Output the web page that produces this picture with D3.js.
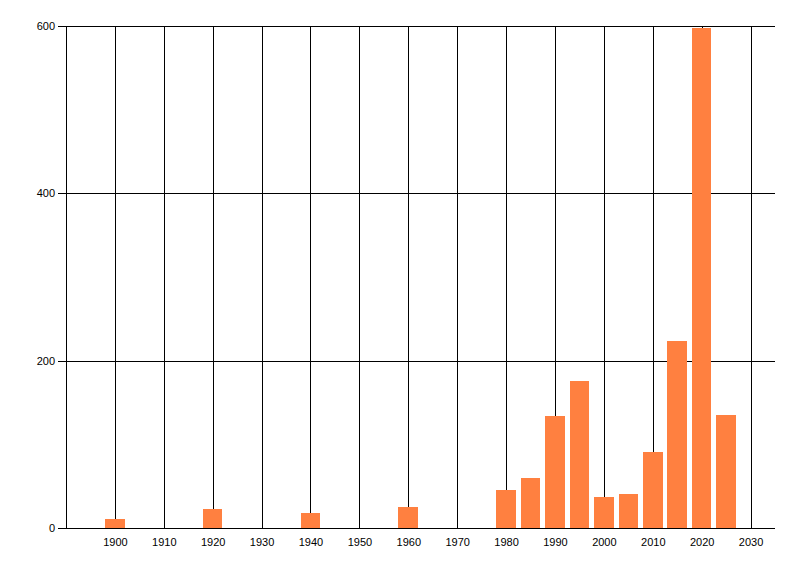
<!DOCTYPE html>
<html>
<head>
<meta charset="utf-8">
<script src="https://cdn.jsdelivr.net/npm/d3@7"></script>
<style>
  body { margin: 0; background: #fff; }
  text { font-family: "Liberation Sans", "DejaVu Sans", sans-serif; font-size: 11px; fill: #000; }
</style>
</head>
<body>
<div class="container"></div>
<script>
// data
const years  = [1900, 1920, 1940, 1960, 1980, 1985, 1990, 1995, 2000, 2005, 2010, 2015, 2020, 2025];
const counts = [11, 23, 18, 25, 46, 60, 134, 176, 37, 41, 91, 223, 598, 135];
const xTicks = [1900, 1910, 1920, 1930, 1940, 1950, 1960, 1970, 1980, 1990, 2000, 2010, 2020, 2030];
const yTicks = [0, 200, 400, 600];

const margin = {top: 26, right: 25, bottom: 48, left: 66};
const width = 800 - margin.left - margin.right;
const height = 576 - margin.top - margin.bottom;

const svg = d3.select(".container")
              .append("svg")
                .attr("width", 800)
                .attr("height", 576)
              .append("g")
                .attr("transform", "translate(" + margin.left + "," + margin.top + ")");

const x = d3.scaleLinear().domain([1890, 2035]).range([0, width]);
const y = d3.scaleLinear().domain([0, 600]).range([height, 0]);

const barYears = 4; // each bar spans about four years

// vertical grid via bottom axis
const xAxis = svg.append("g")
  .attr("transform", "translate(0," + height + ")")
  .call(d3.axisBottom(x).tickValues(xTicks).tickFormat(d3.format("d"))
          .tickSize(-height).tickSizeOuter(0).tickPadding(7));
xAxis.select(".domain").remove();
xAxis.selectAll(".tick line")
  .attr("stroke", "#000")
  .attr("shape-rendering", "crispEdges");
xAxis.selectAll(".tick text")
  .attr("y", 10)
  .attr("dy", "0.71em");

// horizontal grid via left axis
const yAxis = svg.append("g")
  .call(d3.axisLeft(y).tickValues(yTicks).tickSize(-width).tickSizeOuter(0).tickPadding(11));
yAxis.select(".domain").remove();
yAxis.selectAll(".tick line")
  .attr("x1", -8)
  .attr("stroke", "#000")
  .attr("shape-rendering", "crispEdges");

// y axis line
svg.append("line")
  .attr("x1", 0).attr("x2", 0)
  .attr("y1", 0).attr("y2", height)
  .attr("stroke", "#000")
  .attr("shape-rendering", "crispEdges");

const data = years.map((yr, i) => ({year: yr, value: counts[i]}));

svg.selectAll(".bar")
  .data(data)
  .enter()
  .append("rect")
    .classed("bar", true)
    .attr("x", d => x(d.year - barYears / 2))
    .attr("width", d => x(d.year + barYears / 2) - x(d.year - barYears / 2))
    .attr("y", d => y(d.value))
    .attr("height", d => y(0) - y(d.value))
    .attr("fill", "#FF8040")
    .attr("shape-rendering", "crispEdges");

// baseline drawn over the bars
svg.append("line")
  .attr("x1", -8).attr("x2", width)
  .attr("y1", height).attr("y2", height)
  .attr("stroke", "#000")
  .attr("shape-rendering", "crispEdges");
</script>
</body>
</html>
